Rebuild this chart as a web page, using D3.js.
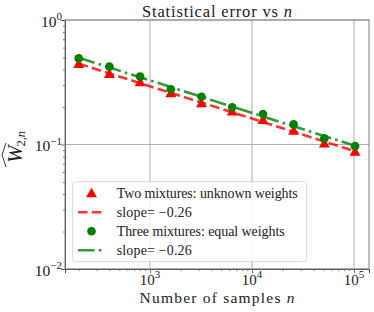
<!DOCTYPE html>
<html><head><meta charset="utf-8">
<script src="https://cdn.jsdelivr.net/npm/d3@7"></script>
<style>
body{margin:0;background:#fff;}
text{font-family:"Liberation Serif","Times New Roman",serif;fill:#222;}
</style></head>
<body>
<svg id="c" width="374" height="312"></svg>
<script>
const nSamples = [200, 400, 800, 1600, 3200, 6400, 12800, 25600, 51200, 102400];
const errTwoMixtures = [0.443, 0.368, 0.316, 0.258, 0.214, 0.184, 0.157, 0.129, 0.102, 0.0875];
const errThreeMixtures = [0.492, 0.422, 0.351, 0.278, 0.242, 0.199, 0.176, 0.145, 0.112, 0.097];
const xMajorTicks = [1e3, 1e4, 1e5];
const xTickExps = ["3", "4", "5"];
const yMajorTicks = [1, 0.1, 0.01];
const yTickExps = ["0", "\u22121", "\u22122"];
const legendLabels = ["Two mixtures: unknown weights", "slope= \u22120.26", "Three mixtures: equal weights", "slope= \u22120.26"];
const legendWidths = [181, 75, 168, 75];

const svg = d3.select("#c");
const L = 65, R = 369, T = 20, B = 269;
const x = d3.scaleLog().domain([146.8, 140300]).range([L, R]);
const y = d3.scaleLog().domain([0.01, 1]).range([B, T]);

// grid
const g = svg.append("g");
g.selectAll(".gx").data(xMajorTicks).join("line")
  .attr("x1", d => x(d)).attr("x2", d => x(d)).attr("y1", T).attr("y2", B)
  .attr("stroke", "#b0b0b0").attr("stroke-width", 1);
g.selectAll(".gy").data(yMajorTicks).join("line")
  .attr("y1", d => y(d)).attr("y2", d => y(d)).attr("x1", L).attr("x2", R)
  .attr("stroke", "#b0b0b0").attr("stroke-width", 1);

// minor ticks
const xMinor = [];
[100, 1000, 10000, 100000].forEach(b => { for (let k = 2; k < 10; k++) { const v = b * k; if (v > x.domain()[0] && v < x.domain()[1]) xMinor.push(v); } });
const yMinor = [];
[0.01, 0.1].forEach(b => { for (let k = 2; k < 10; k++) yMinor.push(b * k); });

svg.append("g").attr("transform", `translate(0,${B})`)
  .call(d3.axisBottom(x).tickValues(xMajorTicks).tickSize(4).tickFormat(""));
svg.append("g").attr("transform", `translate(0,${B})`)
  .call(d3.axisBottom(x).tickValues(xMinor).tickSize(2).tickFormat(""))
  .call(s => s.select(".domain").remove());
svg.append("g").attr("transform", `translate(${L},0)`)
  .call(d3.axisLeft(y).tickValues(yMajorTicks).tickSize(4).tickFormat(""));
svg.append("g").attr("transform", `translate(${L},0)`)
  .call(d3.axisLeft(y).tickValues(yMinor).tickSize(2).tickFormat(""))
  .call(s => s.select(".domain").remove());
svg.selectAll(".tick line").attr("stroke", "#555").attr("stroke-width", 0.8);

// frame
svg.append("rect").attr("x", L).attr("y", T).attr("width", R - L).attr("height", B - T)
  .attr("fill", "none").attr("stroke", "#808080").attr("stroke-width", 1);
svg.selectAll(".domain").attr("stroke", "#444");

// tick labels
xMajorTicks.forEach((v, i) => {
  const t = svg.append("text").attr("x", x(v)).attr("y", B + 15.5).attr("text-anchor", "middle").attr("font-size", 15);
  t.append("tspan").text("10");
  t.append("tspan").attr("dy", -6.5).attr("font-size", 11).text(xTickExps[i]);
});
yMajorTicks.forEach((v, i) => {
  const t = svg.append("text").attr("x", L - 3).attr("y", y(v) + 6.5).attr("text-anchor", "end").attr("font-size", 15.5);
  t.append("tspan").text("10");
  t.append("tspan").attr("dy", -6.5).attr("font-size", 11).text(yTickExps[i]);
});

// fitted lines (least squares in log-log space)
function fit(xs, ys) {
  const lx = xs.map(Math.log10), ly = ys.map(Math.log10);
  const mx = d3.mean(lx), my = d3.mean(ly);
  const s = d3.sum(lx, (v, i) => (v - mx) * (ly[i] - my)) / d3.sum(lx, v => (v - mx) ** 2);
  const c = my - s * mx;
  return xs.map(v => Math.pow(10, c + s * Math.log10(v)));
}
const line = d3.line().x(d => x(d[0])).y(d => y(d[1]));
const tri = d3.symbol().type(d3.symbolTriangle).size(52);
const circ = d3.symbol().type(d3.symbolCircle).size(58);

// red series
svg.append("g").selectAll("path").data(nSamples.map((n, i) => [n, errTwoMixtures[i]])).join("path")
  .attr("d", tri).attr("transform", d => `translate(${x(d[0])},${y(d[1]) + 0.8})`).attr("fill", "#ff0000");
const fitRed = fit(nSamples, errTwoMixtures);
svg.append("path").datum(nSamples.map((n, i) => [n, fitRed[i]])).attr("d", line)
  .attr("fill", "none").attr("stroke", "#ff0000").attr("stroke-opacity", 0.8).attr("stroke-width", 2.6)
  .attr("stroke-dasharray", "9.6,4.2");

// green series
svg.append("g").selectAll("path").data(nSamples.map((n, i) => [n, errThreeMixtures[i]])).join("path")
  .attr("d", circ).attr("transform", d => `translate(${x(d[0])},${y(d[1])})`).attr("fill", "#008000");
const fitGreen = fit(nSamples, errThreeMixtures);
svg.append("path").datum(nSamples.map((n, i) => [n, fitGreen[i]])).attr("d", line)
  .attr("fill", "none").attr("stroke", "#008000").attr("stroke-opacity", 0.8).attr("stroke-width", 2.6)
  .attr("stroke-dasharray", "16.6,4.2,2.6,4.2");

// legend
const lg = svg.append("g");
lg.append("rect").attr("x", 72.7).attr("y", 181.7).attr("width", 234).attr("height", 80).attr("rx", 3)
  .attr("fill", "#fff").attr("fill-opacity", 0.8).attr("stroke", "#d0d0d0").attr("stroke-opacity", 0.8);
const rowY = [193.3, 212.3, 231.3, 250.2];
lg.append("path").attr("d", tri).attr("transform", `translate(91.5,${rowY[0] + 0.8})`).attr("fill", "#ff0000");
lg.append("line").attr("x1", 78).attr("x2", 105).attr("y1", rowY[1]).attr("y2", rowY[1])
  .attr("stroke", "#ff0000").attr("stroke-opacity", 0.8).attr("stroke-width", 2.6).attr("stroke-dasharray", "9.6,4.2");
lg.append("path").attr("d", circ).attr("transform", `translate(91.5,${rowY[2]})`).attr("fill", "#008000");
lg.append("line").attr("x1", 78).attr("x2", 105).attr("y1", rowY[3]).attr("y2", rowY[3])
  .attr("stroke", "#008000").attr("stroke-opacity", 0.8).attr("stroke-width", 2.6).attr("stroke-dasharray", "16.6,4.2,2.6,4.2");
legendLabels.forEach((s, i) => {
  lg.append("text").attr("x", 116.7).attr("y", rowY[i] + 4.8).attr("font-size", 14)
    .attr("textLength", legendWidths[i]).attr("lengthAdjust", "spacing").text(s);
});

// title
const tt = svg.append("text").attr("x", 217).attr("y", 17).attr("text-anchor", "middle").attr("font-size", 16.5)
  .attr("textLength", 150).attr("lengthAdjust", "spacing");
tt.append("tspan").text("Statistical error vs ");
tt.append("tspan").attr("font-style", "italic").text("n");

// x label
const xl = svg.append("text").attr("x", 217).attr("y", 302.5).attr("text-anchor", "middle").attr("font-size", 15.5)
  .attr("textLength", 155).attr("lengthAdjust", "spacing");
xl.append("tspan").text("Number of samples ");
xl.append("tspan").attr("font-style", "italic").text("n");

// y label
const yl = svg.append("g").attr("transform", "translate(22,147) rotate(-90)");
const ylt = yl.append("text").attr("text-anchor", "middle").attr("font-size", 21);
ylt.append("tspan").attr("font-style", "italic").text("W");
ylt.append("tspan").attr("dy", 3).attr("dx", -1).attr("font-size", 12.5).text("2,");
ylt.append("tspan").attr("font-size", 12.5).attr("font-style", "italic").text("n");
yl.append("path").attr("d", "M-20,-16 L-8,-20 L4,-16").attr("fill", "none").attr("stroke", "#222").attr("stroke-width", 0.9);
</script>
</body></html>
